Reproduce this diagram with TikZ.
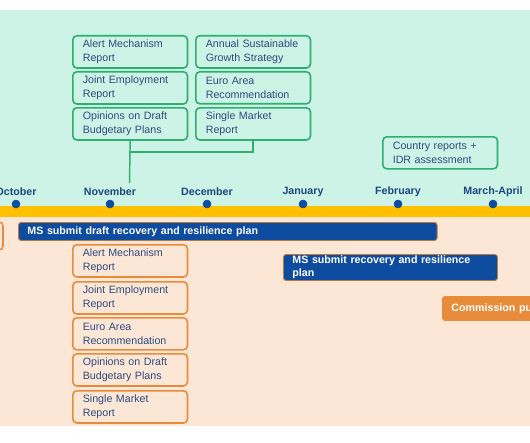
\documentclass[tikz,border=0pt]{standalone}
\usepackage{fontspec}
\setmainfont{Liberation Sans}

\definecolor{mint}{RGB}{205,243,230}
\definecolor{peach}{RGB}{252,231,214}
\definecolor{leaf}{RGB}{46,175,114}
\definecolor{amber}{RGB}{255,192,0}
\definecolor{navy}{RGB}{13,76,158}
\definecolor{slate}{RGB}{45,74,125}
\definecolor{rust}{RGB}{232,140,60}
\definecolor{monthblue}{RGB}{28,70,130}
\definecolor{bronze}{RGB}{190,120,60}

\begin{document}
\begin{tikzpicture}[x=0.75pt,y=-0.75pt,
  greenbox/.style={draw=leaf,line width=1.2pt,rounded corners=3pt,fill=mint,anchor=north west,
    minimum width=86pt,minimum height=24pt,text width=71pt,inner xsep=7.5pt,align=left,
    font=\fontsize{8}{10}\selectfont,text=slate},
  peachbox/.style={greenbox,draw=rust,fill=peach},
  navybar/.style={draw=bronze,line width=0.7pt,rounded corners=2pt,fill=navy,anchor=north west,
    inner xsep=6.75pt,inner ysep=1pt,align=left,text=white,font=\fontsize{8}{10}\bfseries},
  month/.style={text=monthblue,font=\fontsize{8}{10}\bfseries},
  link/.style={draw=leaf,line width=1.1pt}]

\useasboundingbox (0,0) rectangle (530,442);
\clip (0,0) rectangle (530,442);

\fill[white] (0,0) rectangle (530,442);
\fill[mint] (0,10) rectangle (530,206);
\fill[amber] (0,206) rectangle (530,217);
\fill[peach] (0,217) rectangle (530,426);

%%%%%%%%%%%%%%%%%%%%%%%%%%%%%%%%%%%%%%%%%%%%
\node[greenbox] (amr) at (72,35) {Alert Mechanism\\Report};
\node[greenbox] (jer) at (72,71) {Joint Employment\\Report};
\node[greenbox] (odbp) at (72,107) {Opinions on Draft\\Budgetary Plans};
\node[greenbox] (asgs) at (195,35) {Annual Sustainable\\Growth Strategy};
\node[greenbox] (ear) at (195,71) {Euro Area\\Recommendation};
\node[greenbox] (smr) at (195,107) {Single Market\\Report};
\node[greenbox] (cr) at (382,136) {Country reports +\\IDR assessment};

\coordinate (junc) at (129.5,152);
\coordinate (stem) at (129.5,183);
\draw[link] (odbp.south) -- (stem);
\draw[link] (smr.south) |- (junc);

%%%%%%%%%%%%%%%%%%%%%%%%%%%%%%%%%%%%%%%%%%%%
\node[month] (oct) at (16,192) {October};
\node[month] (nov) at (110,192) {November};
\node[month] (dec) at (207,192) {December};
\node[month] (jan) at (303,192) {January};
\node[month] (feb) at (398,192) {February};
\node[month] (mar) at (493,192) {March-April};

\filldraw[color=navy] (16,204) circle (3pt);
\filldraw[color=navy] (110,204) circle (3pt);
\filldraw[color=navy] (207,204) circle (3pt);
\filldraw[color=navy] (303,204) circle (3pt);
\filldraw[color=navy] (398,204) circle (3pt);
\filldraw[color=navy] (493,204) circle (3pt);

%%%%%%%%%%%%%%%%%%%%%%%%%%%%%%%%%%%%%%%%%%%%
\filldraw[draw=rust,fill=peach,line width=1.2pt,rounded corners=3pt] (-40,222) rectangle (3,250);

\node[navybar,minimum width=314pt,minimum height=13.5pt,text width=300.5pt] (draft) at (18,222)
  {MS submit draft recovery and resilience plan};
\node[navybar,minimum width=160.5pt,minimum height=19.5pt,text width=147pt] (final) at (283,254)
  {MS submit recovery and resilience\\plan};
\node[navybar,draw=rust,fill=rust,minimum height=18pt,text width=120pt] (comm) at (442,296)
  {Commission pu};

\node[peachbox] (pamr) at (72,244) {Alert Mechanism\\Report};
\node[peachbox] (pjer) at (72,281) {Joint Employment\\Report};
\node[peachbox] (pear) at (72,317) {Euro Area\\Recommendation};
\node[peachbox] (podbp) at (72,353) {Opinions on Draft\\Budgetary Plans};
\node[peachbox] (psmr) at (72,390) {Single Market\\Report};

\end{tikzpicture}
\end{document}
